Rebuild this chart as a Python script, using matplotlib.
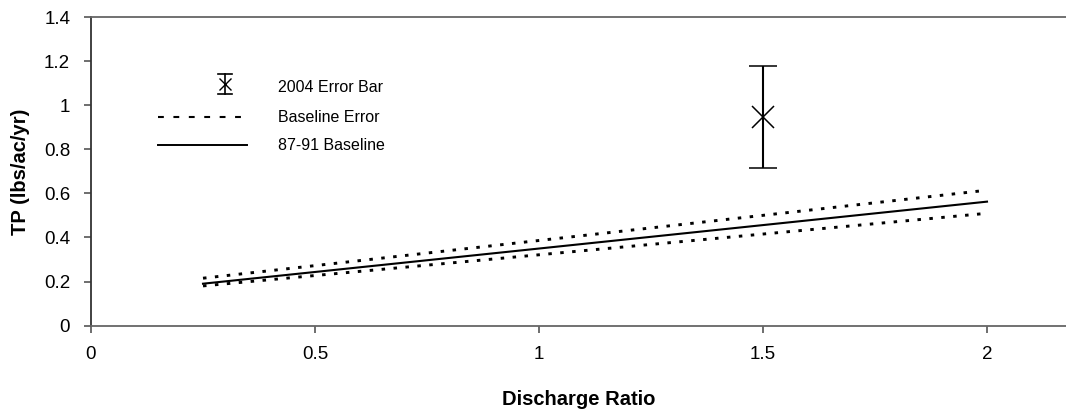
import matplotlib
matplotlib.use("Agg")
import matplotlib.pyplot as plt
from matplotlib.lines import Line2D

plt.rcParams['font.family'] = ['Liberation Sans', 'DejaVu Sans']

# Discharge ratio endpoints of the 87-91 baseline regression
ratio = [0.25, 2.0]
baseline = [0.19, 0.563]
baseline_upper = [0.215, 0.615]
baseline_lower = [0.18, 0.51]

# 2004 observation with its error range
obs_ratio = [1.5]
obs_tp = [0.946]
obs_low = [0.717]
obs_high = [1.181]

xticks = [0, 0.5, 1, 1.5, 2]
yticks = [0, 0.2, 0.4, 0.6, 0.8, 1.0, 1.2, 1.4]
ytick_labels = ['0', '0.2', '0.4', '0.6', '0.8', '1', '1.2', '1.4']
xtick_labels = ['0', '0.5', '1', '1.5', '2']

W, H = 1066, 415
fig = plt.figure(figsize=(W / 100, H / 100), dpi=100)
ax = fig.add_axes([91 / W, 1 - 325.5 / H, (W - 91) / W, (325.5 - 17.5) / H])

dot_style = dict(color='black', lw=2.1, linestyle=(0, (1.2, 2.9)), dash_capstyle='butt')
ax.plot(ratio, baseline_upper, **dot_style)
ax.plot(ratio, baseline_lower, **dot_style)
ax.plot(ratio, baseline, color='black', lw=1.5)

yerr = [[obs_tp[0] - obs_low[0]], [obs_high[0] - obs_tp[0]]]
ax.errorbar(obs_ratio, obs_tp, yerr=yerr, fmt='x', color='black',
            markersize=16, markeredgewidth=1.1, elinewidth=1.5,
            capsize=10, capthick=1.5)

ax.set_xlim(0, (W - 91) / 448)
ax.set_ylim(0, 1.4)
ax.set_xticks(xticks)
ax.set_xticklabels(xtick_labels)
ax.set_yticks(yticks)
ax.set_yticklabels(ytick_labels)
ax.tick_params(axis='both', direction='out', length=5, width=1.2,
               color='#555555', labelsize=13.5)
ax.tick_params(axis='x', pad=10)
ax.tick_params(axis='y', pad=10)

for side in ('top', 'bottom'):
    ax.spines[side].set_color('#666666')
    ax.spines[side].set_linewidth(1.3)
ax.spines['left'].set_color('#333333')
ax.spines['left'].set_linewidth(1.3)
ax.spines['right'].set_visible(False)

ax.set_xlabel('Discharge Ratio', fontsize=14.5, fontweight='bold', labelpad=19)
ax.set_ylabel('TP (lbs/ac/yr)', fontsize=14.5, fontweight='bold', labelpad=10)

# Legend drawn at the upper left of the plot area
leg_x0, leg_x1 = 158, 247
rows = [(87, '2004 Error Bar'), (117, 'Baseline Error'), (145, '87-91 Baseline')]

# error-bar symbol
cx, cy = 225, 84
fig.lines.append(Line2D([cx / W, cx / W], [1 - (cy - 10) / H, 1 - (cy + 10) / H],
                        transform=fig.transFigure, color='black', lw=1.2))
for dy in (-10, 10):
    fig.lines.append(Line2D([(cx - 7) / W, (cx + 7) / W], [1 - (cy + dy) / H] * 2,
                            transform=fig.transFigure, color='black', lw=1.2))
fig.lines.append(Line2D([cx / W], [1 - cy / H], transform=fig.transFigure, color='black',
                        marker='x', markersize=9, markeredgewidth=1.0))
# baseline error symbol
fig.lines.append(Line2D([leg_x0 / W, leg_x1 / W], [1 - 117 / H] * 2,
                        transform=fig.transFigure, color='black', lw=1.5,
                        linestyle=(0, (2.8, 4.6))))
# baseline symbol
fig.lines.append(Line2D([leg_x0 / W, leg_x1 / W], [1 - 145 / H] * 2,
                        transform=fig.transFigure, color='black', lw=1.4))
for py, label in rows:
    fig.text(278 / W, 1 - py / H, label, fontsize=11.5, va='center', ha='left')

fig.savefig('out.png', dpi=100)
